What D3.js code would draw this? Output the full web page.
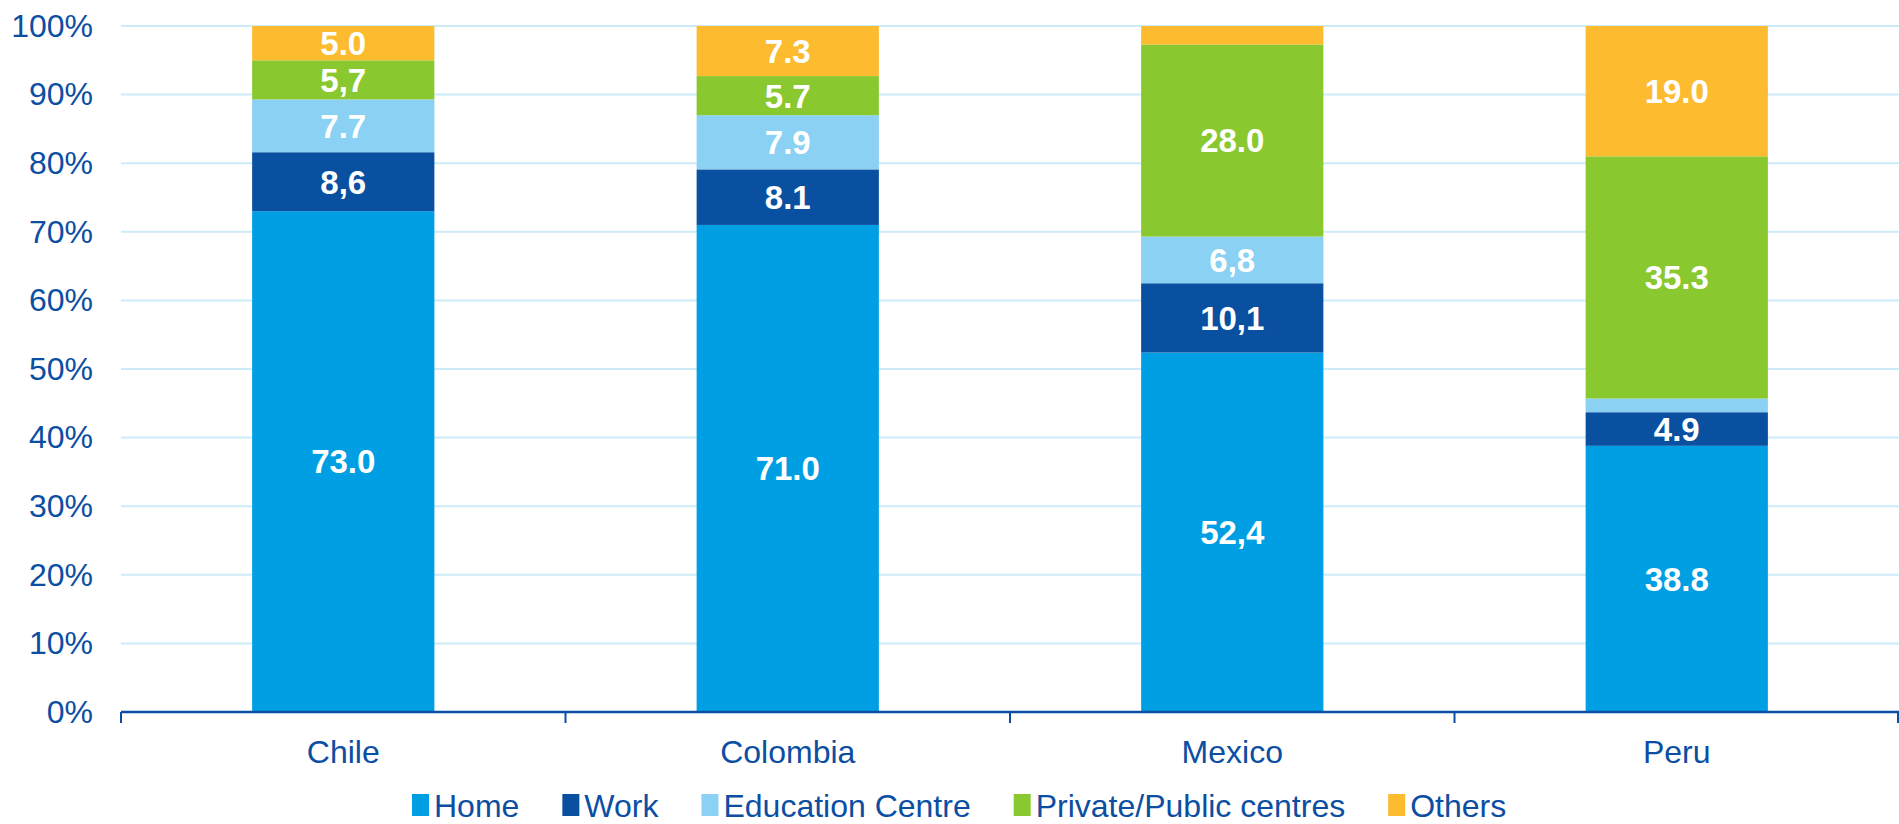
<!DOCTYPE html>
<html>
<head>
<meta charset="utf-8">
<script src="https://cdn.jsdelivr.net/npm/d3@7"></script>
<style>
  html, body { margin: 0; padding: 0; background: #fff; }
  svg { display: block; font-family: "Liberation Sans", Arial, sans-serif; }
</style>
</head>
<body>
<svg id="chart" width="1899" height="824"></svg>
<script>
// Share of each place category by country (percent, stacked to 100)
const countries = ["Chile", "Colombia", "Mexico", "Peru"];
const seriesNames = ["Home", "Work", "Education Centre", "Private/Public centres", "Others"];
const home      = [73.0, 71.0, 52.4, 38.8];
const work      = [8.6, 8.1, 10.1, 4.9];
const education = [7.7, 7.9, 6.8, 2.0];
const privPub   = [5.7, 5.7, 28.0, 35.3];
const others    = [5.0, 7.3, 2.7, 19.0];
// Printed labels (empty where the segment carries no label)
const homeLabels      = ["73.0", "71.0", "52,4", "38.8"];
const workLabels      = ["8,6", "8.1", "10,1", "4.9"];
const educationLabels = ["7.7", "7.9", "6,8", ""];
const privPubLabels   = ["5,7", "5.7", "28.0", "35.3"];
const othersLabels    = ["5.0", "7.3", "", "19.0"];
const yTicks = [0, 10, 20, 30, 40, 50, 60, 70, 80, 90, 100];
const colors = ["#009FE3", "#0A50A1", "#8AD1F3", "#8AC82F", "#FDBB30"];

const seriesValues = [home, work, education, privPub, others];
const seriesLabels = [homeLabels, workLabels, educationLabels, privPubLabels, othersLabels];

const textColor = "#0B4EA2";
const svg = d3.select("#chart");
const margin = { left: 121, right: 0, top: 26, bottom: 112 };
const W = 1899, H = 824;

const x = d3.scaleBand().domain(countries).range([margin.left, W - margin.right]).padding(0);
const y = d3.scaleLinear().domain([0, 100]).range([H - margin.bottom, margin.top]);
const barW = x.bandwidth() * 0.41;

// Gridlines
svg.append("g").selectAll("line").data(yTicks.filter(d => d > 0)).join("line")
  .attr("x1", margin.left).attr("x2", W)
  .attr("y1", d => y(d)).attr("y2", d => y(d))
  .attr("stroke", "#CDEBF8").attr("stroke-width", 2);

// Y axis labels
const yAxis = d3.axisLeft(y).tickValues(yTicks).tickFormat(d => d + "%").tickSize(0).tickPadding(28);
const gy = svg.append("g").attr("transform", `translate(${margin.left},0)`).call(yAxis);
gy.select(".domain").remove();
gy.selectAll("text").attr("fill", textColor).style("font-size", "32px")
  .style("font-family", "Liberation Sans, Arial, sans-serif");

// Stacked data
const rows = countries.map((c, i) => {
  const r = { country: c };
  seriesNames.forEach((s, k) => { r[s] = seriesValues[k][i]; });
  return r;
});
const stacked = d3.stack().keys(seriesNames)(rows);

const gBars = svg.append("g");
stacked.forEach((layer, k) => {
  const g = gBars.append("g").attr("fill", colors[k]);
  g.selectAll("rect").data(layer).join("rect")
    .attr("x", d => x(d.data.country) + x.bandwidth() / 2 - barW / 2)
    .attr("width", barW)
    .attr("y", d => y(d[1]))
    .attr("height", d => y(d[0]) - y(d[1]));
});

// Segment value labels
stacked.forEach((layer, k) => {
  svg.append("g").selectAll("text").data(layer).join("text")
    .attr("x", d => x(d.data.country) + x.bandwidth() / 2)
    .attr("y", d => (y(d[0]) + y(d[1])) / 2)
    .attr("dy", "0.36em")
    .attr("text-anchor", "middle")
    .attr("fill", "#fff")
    .style("font-size", "33px").style("font-weight", "bold")
    .text((d, i) => seriesLabels[k][i]);
});

// Category axis
const xAxisY = y(0);
svg.append("line").attr("x1", margin.left).attr("x2", W).attr("y1", xAxisY).attr("y2", xAxisY)
  .attr("stroke", textColor).attr("stroke-width", 2.5);
const boundaries = countries.map(c => x(c)).concat([W - 1]);
svg.append("g").selectAll("line").data(boundaries).join("line")
  .attr("x1", d => d).attr("x2", d => d)
  .attr("y1", xAxisY).attr("y2", xAxisY + 11)
  .attr("stroke", textColor).attr("stroke-width", 2);
svg.append("g").selectAll("text").data(countries).join("text")
  .attr("x", d => x(d) + x.bandwidth() / 2)
  .attr("y", 763)
  .attr("text-anchor", "middle")
  .attr("fill", textColor)
  .style("font-size", "32px")
  .text(d => d);

// Legend
const legend = svg.append("g").attr("transform", "translate(412,805)");
let lx = 0;
seriesNames.forEach((s, k) => {
  const item = legend.append("g").attr("transform", `translate(${lx},0)`);
  item.append("rect").attr("x", 0).attr("y", -11).attr("width", 17).attr("height", 22).attr("fill", colors[k]);
  const t = item.append("text").attr("x", 22).attr("y", 0).attr("dy", "0.36em")
    .attr("fill", textColor).style("font-size", "32px").text(s);
  lx += 22 + t.node().getComputedTextLength() + 43;
});
</script>
</body>
</html>
